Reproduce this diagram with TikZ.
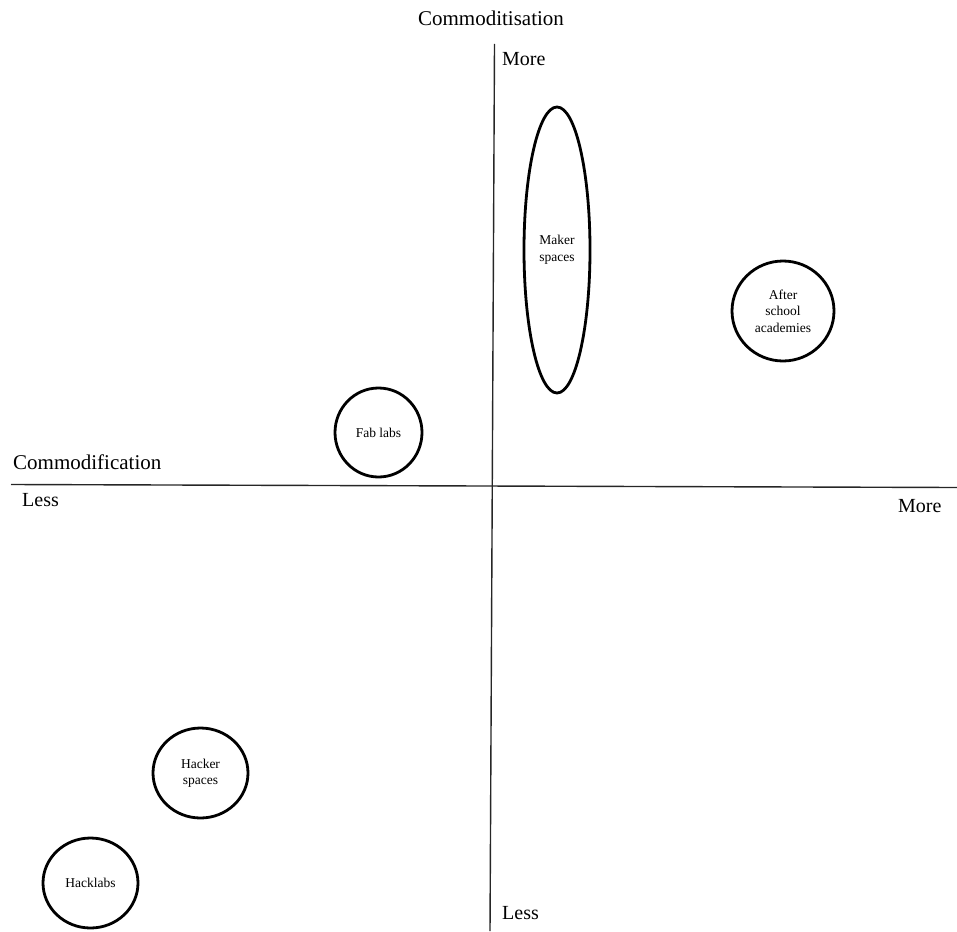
\documentclass[tikz,border=0pt]{standalone}
\usepackage{fontspec}
\setmainfont{Liberation Serif}
\usetikzlibrary{shapes.geometric}
\begin{document}
\begin{tikzpicture}[x=1pt,y=-1pt,
  axis/.style={line width=1.4pt,black!85},
  space/.style={draw,line width=2.8pt,ellipse,inner sep=0pt,align=center,font=\fontsize{13.5}{16.5}\selectfont},
  axislabel/.style={font=\fontsize{21}{25}\selectfont,inner sep=0pt},
  endlabel/.style={font=\fontsize{20}{24}\selectfont,inner sep=0pt}]
\useasboundingbox (0,0) rectangle (957,931);
% axes
\coordinate (left) at (11,484.5);
\coordinate (right) at (957,487.5);
\coordinate (top) at (494.5,44);
\coordinate (bottom) at (490,931);
\draw[axis] (left) -- (right);
\draw[axis] (top) -- (bottom);
% axis titles and ends
\node[axislabel] (vtitle) at (491,18) {Commoditisation};
\node[axislabel,anchor=west] (htitle) at (13,462) {Commodification};
\node[endlabel,anchor=west] (vmore) at (502,59) {More};
\node[endlabel,anchor=west] (vless) at (502,913) {Less};
\node[endlabel,anchor=west] (hless) at (22,500) {Less};
\node[endlabel,anchor=west] (hmore) at (898,506) {More};
% spaces
\node[space,minimum width=87pt,minimum height=89pt] (fab) at (378.5,432.5) {Fab labs};
\node[space,minimum width=66pt,minimum height=286pt] (maker) at (557,250) {Maker\\spaces};
\node[space,minimum width=102pt,minimum height=100pt] (after) at (783,311) {After\\school\\academies};
\node[space,minimum width=95pt,minimum height=90pt] (hacker) at (200.5,773) {Hacker\\spaces};
\node[space,minimum width=95pt,minimum height=90pt] (hacklabs) at (90.5,883) {Hacklabs};
\end{tikzpicture}
\end{document}
